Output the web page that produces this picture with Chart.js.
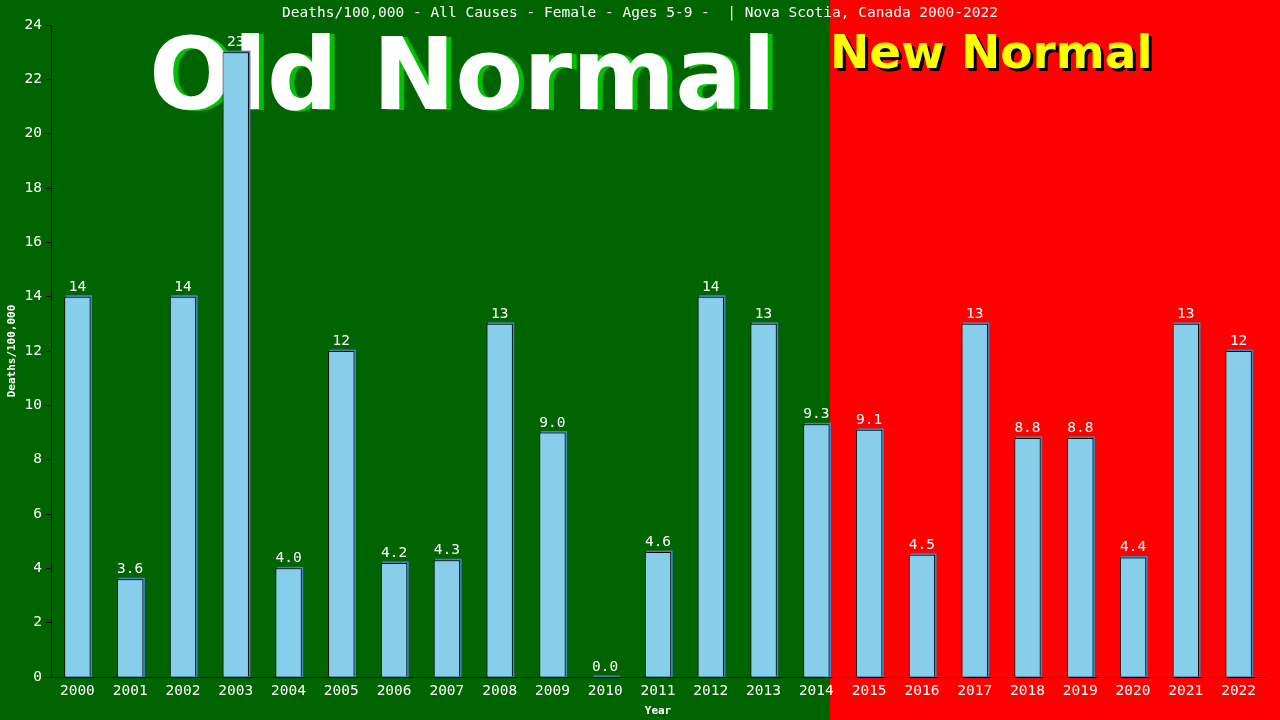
<!DOCTYPE html>
<html>
<head>
<meta charset="utf-8">
<script src="https://cdn.jsdelivr.net/npm/chart.js@4/dist/chart.umd.min.js"></script>
<style>
html,body{margin:0;padding:0;background:#006400;}
canvas{display:block;}
</style>
</head>
<body>
<canvas id="chart" width="1280" height="720"></canvas>
<script>

const years = ["2000","2001","2002","2003","2004","2005","2006","2007","2008","2009","2010","2011","2012","2013","2014","2015","2016","2017","2018","2019","2020","2021","2022"]
const deaths = [14,3.6,14,23,4.0,12,4.2,4.3,13,9.0,0.0,4.6,14,13,9.3,9.1,4.5,13,8.8,8.8,4.4,13,12]
const labels = ["14","3.6","14","23","4.0","12","4.2","4.3","13","9.0","0.0","4.6","14","13","9.3","9.1","4.5","13","8.8","8.8","4.4","13","12"]
const yTicks = [0,2,4,6,8,10,12,14,16,18,20,22,24]
const splitAfter = "2014"

const mono = "'DejaVu Sans Mono', monospace"

const backdrop = {
id: "backdrop",
beforeDraw(chart){
const ctx = chart.ctx
const meta = chart.getDatasetMeta(0)
const i = years.indexOf(splitAfter)
const bar = meta.data[i]
const split = Math.round(bar.x + bar.width/2)
ctx.save()
ctx.fillStyle = "#006400"
ctx.fillRect(0,0,split,chart.height)
ctx.fillStyle = "#ff0000"
ctx.fillRect(split,0,chart.width-split,chart.height)

ctx.textBaseline = "alphabetic"
ctx.textAlign = "left"
ctx.font = "bold 99px 'DejaVu Sans'"
ctx.fillStyle = "#00c000"
ctx.fillText("Old Normal", 154, 110)
ctx.fillStyle = "#ffffff"
ctx.fillText("Old Normal", 149, 109)

ctx.font = "bold 47px 'DejaVu Sans'"
ctx.fillStyle = "#000000"
ctx.fillText("New Normal", 833, 71)
ctx.fillStyle = "#ffff00"
ctx.fillText("New Normal", 830, 68)

ctx.font = "14.5px " + mono
ctx.textAlign = "center"
ctx.textBaseline = "middle"
ctx.fillStyle = "#ffffff"
ctx.fillText("Deaths/100,000 - All Causes - Female - Ages 5-9 -  | Nova Scotia, Canada 2000-2022", 640, 13)
ctx.restore()
},
beforeDatasetsDraw(chart){
const ctx = chart.ctx
const y0 = chart.scales.y.getPixelForValue(0)
ctx.save()
ctx.fillStyle = "#4682b4"
chart.getDatasetMeta(0).data.forEach(b => {
const left = b.x - b.width/2
ctx.fillRect(left+1.5, b.y-1.5, b.width, y0-b.y+1.5)
})
ctx.restore()
},
afterDatasetsDraw(chart){
const ctx = chart.ctx
ctx.save()
ctx.font = "14.5px " + mono
ctx.fillStyle = "#ffffff"
ctx.textAlign = "center"
ctx.textBaseline = "alphabetic"
chart.getDatasetMeta(0).data.forEach((b,i) => {
ctx.fillText(labels[i], b.x, b.y-6)
})
ctx.restore()
}
}

const ctx = document.getElementById("chart").getContext("2d")

new Chart(ctx, {
type: "bar",
data: {
labels: years,
datasets: [{
data: deaths,
backgroundColor: "#87ceeb",
borderColor: "#000000",
borderWidth: 1,
borderSkipped: "bottom",
categoryPercentage: 1,
barPercentage: 0.5
}]
},
options:{
responsive:false,
animation:false,
layout:{padding:{top:25,right:15,left:0,bottom:0}},
plugins:{
legend:{display:false},
title:{display:false},
tooltip:{enabled:false}
},
scales:{
x:{
afterFit: s => { s.height = 43 },
grid:{display:false, drawTicks:false},
border:{color:"#000000", width:1},
ticks:{color:"#ffffff", font:{family:mono, size:14.5}, padding:6, maxRotation:0, autoSkip:false},
title:{display:true, text:"Year", color:"#ffffff", font:{family:mono, size:11, weight:"bold"}, padding:{top:0,bottom:2}}
},
y:{
min:0,
max:24,
afterFit: s => { s.width = 51 },
afterBuildTicks: s => { s.ticks = yTicks.map(v => ({value:v})) },
grid:{display:true, drawOnChartArea:false, drawTicks:true, tickLength:5, color:"#000000"},
border:{color:"#000000", width:1},
ticks:{color:"#ffffff", font:{family:mono, size:14.5}, padding:4},
title:{display:true, text:"Deaths/100,000", color:"#ffffff", font:{family:mono, size:11, weight:"bold"}, padding:{top:6,bottom:0}}
}
}
},
plugins:[backdrop]
})

</script>
</body>
</html>
